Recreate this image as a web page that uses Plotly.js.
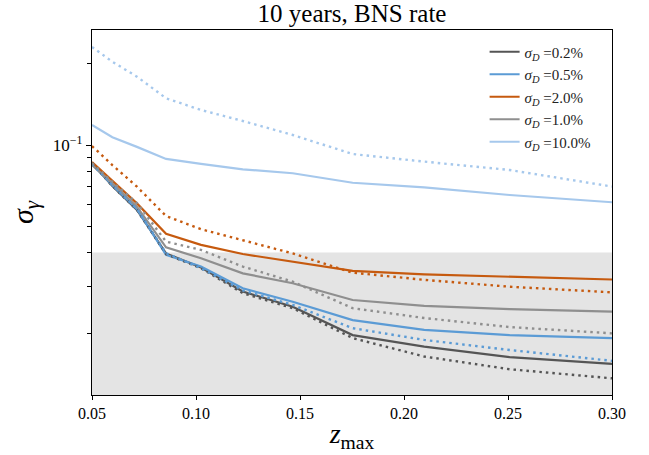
<!DOCTYPE html>
<html>
<head>
<meta charset="utf-8">
<script src="https://cdn.plot.ly/plotly-3.0.1.min.js"></script>
<style>html,body{margin:0;padding:0;background:#fff;}#chart{width:649px;height:455px;}</style>
</head>
<body>
<div id="chart"></div>
<script>
// redshift cut-off values
const zmax = [0.05, 0.0598, 0.0716, 0.0856, 0.1024, 0.1225, 0.1465, 0.1753, 0.2097, 0.2508, 0.30];

// legend labels (sigma_D)
const labels = ["0.2%", "0.5%", "2.0%", "1.0%", "10.0%"];

// solid curves
const solid_02  = [0.0858, 0.0705, 0.0575, 0.0397, 0.0352, 0.0287, 0.0252, 0.0198, 0.01795, 0.0164, 0.0155];
const solid_05  = [0.0852, 0.0710, 0.0580, 0.0392, 0.0355, 0.0295, 0.0263, 0.0225, 0.0207, 0.0198, 0.0193];
const solid_20  = [0.0865, 0.0740, 0.0608, 0.0469, 0.0427, 0.0395, 0.0370, 0.0342, 0.0332, 0.0326, 0.0318];
const solid_10  = [0.0843, 0.0721, 0.0591, 0.0418, 0.0381, 0.0335, 0.0308, 0.0267, 0.0254, 0.0247, 0.0242];
const solid_100 = [0.1186, 0.1068, 0.0984, 0.0888, 0.0852, 0.0813, 0.0786, 0.0725, 0.0697, 0.0653, 0.0614];

// dotted curves
const dot_02  = [0.0858, 0.0705, 0.0575, 0.0395, 0.0350, 0.0283, 0.0249, 0.0193, 0.0165, 0.0148, 0.0137];
const dot_05  = [0.0852, 0.0710, 0.0580, 0.0398, 0.0350, 0.0290, 0.0256, 0.0210, 0.0190, 0.01744, 0.0159];
const dot_20  = [0.0991, 0.0843, 0.0701, 0.0546, 0.0488, 0.0445, 0.0397, 0.0337, 0.0317, 0.0299, 0.0285];
const dot_10  = [0.0857, 0.0730, 0.0610, 0.0439, 0.0409, 0.0355, 0.0312, 0.0249, 0.0229, 0.0212, 0.0201];
const dot_100 = [0.2305, 0.2033, 0.1790, 0.1489, 0.1348, 0.1227, 0.1089, 0.0926, 0.0868, 0.0808, 0.0702];

// shaded threshold
const threshold = 0.04;

// ticks
const yTickVals = [0.1];
const yTickText = ["10<sup>\u22121</sup>"];
const yMinorVals = [0.02, 0.03, 0.04, 0.05, 0.06, 0.07, 0.08, 0.09, 0.2];
const xTickVals = [0.05, 0.10, 0.15, 0.20, 0.25, 0.30];
const xTickText = ["0.05", "0.10", "0.15", "0.20", "0.25", "0.30"];

const colors = ["#555555", "#5b9bd5", "#c65a0f", "#8f8f8f", "#a6c8ec"];
const solids = [solid_02, solid_05, solid_20, solid_10, solid_100];
const dots = [dot_02, dot_05, dot_20, dot_10, dot_100];

const SERIF = "'Liberation Serif', 'DejaVu Serif', serif";
const yRange = [-1.925, -0.5745];
const xRange = [0.05, 0.30];
const yFloor = Math.pow(10, yRange[0]);

const traces = [];
// grey band below the threshold
traces.push({
  x: [xRange[0], xRange[1], xRange[1], xRange[0], xRange[0]],
  y: [threshold, threshold, yFloor, yFloor, threshold],
  type: 'scatter', mode: 'lines', fill: 'toself',
  fillcolor: '#e4e4e4', line: {width: 0, color: 'rgba(0,0,0,0)'},
  showlegend: false, hoverinfo: 'skip'
});
for (let i = 0; i < labels.length; i++) {
  traces.push({
    x: zmax, y: solids[i], type: 'scatter', mode: 'lines',
    name: '<i>\u03c3</i><sub><i>D</i></sub> =' + labels[i],
    line: {color: colors[i], width: 2.2},
    showlegend: true
  });
}
for (let i = 0; i < labels.length; i++) {
  traces.push({
    x: zmax, y: dots[i], type: 'scatter', mode: 'lines',
    line: {color: colors[i], width: 2.4, dash: '2.5px,4px'},
    showlegend: false, hoverinfo: 'skip'
  });
}

const layout = {
  width: 649, height: 455,
  margin: {l: 92, r: 37, t: 30, b: 60},
  paper_bgcolor: '#ffffff', plot_bgcolor: '#ffffff',
  font: {family: SERIF, color: '#000'},
  title: {text: '10 years, BNS rate', font: {family: SERIF, size: 25, color: '#000'},
          xref: 'paper', x: 0.5, xanchor: 'center', yref: 'container', y: 0.972, yanchor: 'middle'},
  xaxis: {
    range: xRange, tickvals: xTickVals, ticktext: xTickText,
    ticks: 'outside', ticklen: 4, tickwidth: 1, tickcolor: '#000',
    showline: true, linecolor: '#000', linewidth: 1.2, mirror: true,
    showgrid: false, zeroline: false,
    tickfont: {family: SERIF, size: 16, color: '#000'},
    title: {text: '<i>z</i><sub>max</sub>', font: {family: SERIF, size: 28, color: '#000'}, standoff: 2}
  },
  yaxis: {
    type: 'log', range: yRange, tickmode: 'array', tickvals: yTickVals, ticktext: yTickText,
    ticks: 'outside', ticklen: 5, tickwidth: 1, tickcolor: '#000',
    minor: {tickmode: 'array', tickvals: yMinorVals, ticks: 'outside', ticklen: 4, tickwidth: 1, tickcolor: '#000', showgrid: false},
    showline: true, linecolor: '#000', linewidth: 1.2, mirror: true,
    showgrid: false, zeroline: false,
    tickfont: {family: SERIF, size: 17, color: '#000'},
    title: {text: '<i>\u03c3</i><sub><i>\u03b3</i></sub>', font: {family: SERIF, size: 30, color: '#000'}, standoff: 10}
  },
  legend: {
    x: 0.755, xanchor: 'left', y: 0.985, yanchor: 'top',
    bgcolor: 'rgba(255,255,255,0)', borderwidth: 0,
    font: {family: SERIF, size: 15, color: '#222'},
    tracegroupgap: 0
  },
  showlegend: true
};

Plotly.newPlot('chart', traces, layout, {displayModeBar: false, staticPlot: true});
</script>
</body>
</html>
